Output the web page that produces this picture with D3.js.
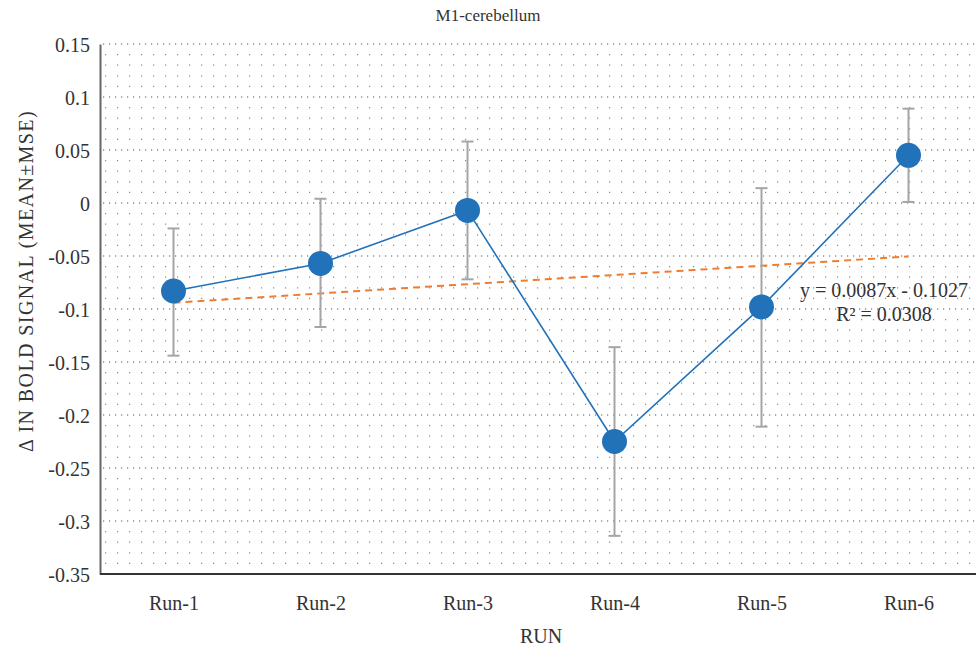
<!DOCTYPE html>
<html>
<head>
<meta charset="utf-8">
<script src="https://cdn.jsdelivr.net/npm/d3@7"></script>
<style>
  body { margin: 0; background: #fff; }
</style>
</head>
<body>
<svg id="chart" width="976" height="650"></svg>
<script>
// values
const runs = ["Run-1", "Run-2", "Run-3", "Run-4", "Run-5", "Run-6"]
const means = [-0.083, -0.057, -0.007, -0.225, -0.098, 0.045]
const errHigh = [-0.024, 0.004, 0.058, -0.136, 0.014, 0.089]
const errLow = [-0.144, -0.117, -0.072, -0.314, -0.211, 0.001]
const yTicks = [0.15, 0.1, 0.05, 0, -0.05, -0.1, -0.15, -0.2, -0.25, -0.3, -0.35]
const trendSlope = 0.0087
const trendIntercept = -0.1027
const trendLabel = ["y = 0.0087x - 0.1027", "R² = 0.0308"]

const serif = "'Liberation Serif', 'DejaVu Serif', serif"
const svg = d3.select("#chart")

const plotLeft = 100, plotRight = 982, plotTop = 44, plotBottom = 574

var x = d3.scalePoint()
  .domain(runs)
  .range([plotLeft, plotRight])
  .padding(0.5)

var y = d3.scaleLinear()
  .domain([-0.35, 0.15])
  .range([plotBottom, plotTop])

// minor grid every 0.01, major every 0.05
var minor = d3.range(-34, 15).map(d => d / 100).filter(d => Math.round(d * 100) % 5 !== 0)
var grid = svg.append("g").attr("class", "grid")
grid.selectAll("line.minor")
  .data(minor)
  .enter()
  .append("line")
  .attr("class", "minor")
  .attr("x1", plotLeft + 5)
  .attr("x2", 976)
  .attr("y1", d => y(d))
  .attr("y2", d => y(d))
  .attr("stroke", "#8a8a8a")
  .attr("stroke-width", 1.2)
  .attr("stroke-dasharray", "1.2,10.8")

grid.selectAll("line.major")
  .data(yTicks.filter(d => d > -0.35))
  .enter()
  .append("line")
  .attr("class", "major")
  .attr("x1", plotLeft + 3)
  .attr("x2", 976)
  .attr("y1", d => y(d))
  .attr("y2", d => y(d))
  .attr("stroke", "#555")
  .attr("stroke-width", 1.2)
  .attr("stroke-dasharray", "1.2,4.8")

// axes
var yAxis = d3.axisLeft(y)
  .tickValues(yTicks)
  .tickSize(0)
  .tickPadding(10)
  .tickFormat(d => String(+d.toFixed(2)))
var gy = svg.append("g")
  .attr("transform", "translate(" + plotLeft + ",0)")
  .call(yAxis)
  .attr("font-family", null)
  .attr("font-size", null)
gy.select(".domain").attr("stroke", "#666").attr("stroke-width", 2)
gy.selectAll("text")
  .style("font-family", serif)
  .style("font-size", "20px")
  .attr("fill", "#333")
  .attr("dy", "0.35em")

var xAxis = d3.axisBottom(x)
  .tickSize(0)
  .tickPadding(22)
var gx = svg.append("g")
  .attr("transform", "translate(0," + plotBottom + ")")
  .call(xAxis)
  .attr("font-family", null)
  .attr("font-size", null)
gx.select(".domain").attr("stroke", "#333").attr("stroke-width", 2)
  .attr("d", "M" + plotLeft + ",0H976")
gx.selectAll("text")
  .style("font-family", serif)
  .style("font-size", "20px")
  .attr("fill", "#333")

// trend line
var trend = runs.map((r, i) => ({ run: r, v: trendSlope * (i + 1) + trendIntercept }))
svg.append("line")
  .attr("x1", x(trend[0].run))
  .attr("y1", y(trend[0].v))
  .attr("x2", x(trend[trend.length - 1].run))
  .attr("y2", y(trend[trend.length - 1].v))
  .attr("stroke", "#ED7D31")
  .attr("stroke-width", 2)
  .attr("stroke-dasharray", "7,5")

// error bars
var bars = svg.append("g").attr("class", "errors")
runs.forEach((r, i) => {
  var cx = x(r)
  bars.append("line")
    .attr("x1", cx).attr("x2", cx)
    .attr("y1", y(errHigh[i])).attr("y2", y(errLow[i]))
  bars.append("line")
    .attr("x1", cx - 6).attr("x2", cx + 6)
    .attr("y1", y(errHigh[i])).attr("y2", y(errHigh[i]))
  bars.append("line")
    .attr("x1", cx - 6).attr("x2", cx + 6)
    .attr("y1", y(errLow[i])).attr("y2", y(errLow[i]))
})
bars.selectAll("line")
  .attr("stroke", "#a5a5a5")
  .attr("stroke-width", 2)

// mean line + markers
var line = d3.line()
  .x((d, i) => x(runs[i]))
  .y(d => y(d))
svg.append("path")
  .datum(means)
  .attr("d", line)
  .attr("fill", "none")
  .attr("stroke", "#2272BA")
  .attr("stroke-width", 1.6)

svg.selectAll("circle.mean")
  .data(means)
  .enter()
  .append("circle")
  .attr("class", "mean")
  .attr("cx", (d, i) => x(runs[i]))
  .attr("cy", d => y(d))
  .attr("r", 12.5)
  .attr("fill", "#2272BA")

// trend label
svg.selectAll("text.trend")
  .data(trendLabel)
  .enter()
  .append("text")
  .attr("class", "trend")
  .attr("x", 884)
  .attr("y", (d, i) => 297 + i * 24)
  .attr("text-anchor", "middle")
  .style("font-family", serif)
  .style("font-size", "20px")
  .attr("fill", "#333")
  .text(d => d)

// titles
svg.append("text")
  .attr("x", 488)
  .attr("y", 21)
  .attr("text-anchor", "middle")
  .style("font-family", serif)
  .style("font-size", "17px")
  .attr("fill", "#333")
  .text("M1-cerebellum")

svg.append("text")
  .attr("x", 541)
  .attr("y", 643)
  .attr("text-anchor", "middle")
  .style("font-family", serif)
  .style("font-size", "20px")
  .attr("fill", "#333")
  .text("RUN")

svg.append("text")
  .attr("transform", "translate(33,281) rotate(-90)")
  .attr("text-anchor", "middle")
  .style("font-family", serif)
  .style("font-size", "20px")
  .attr("letter-spacing", 1.4)
  .attr("fill", "#333")
  .text("Δ IN BOLD SIGNAL (MEAN±MSE)")
</script>
</body>
</html>
